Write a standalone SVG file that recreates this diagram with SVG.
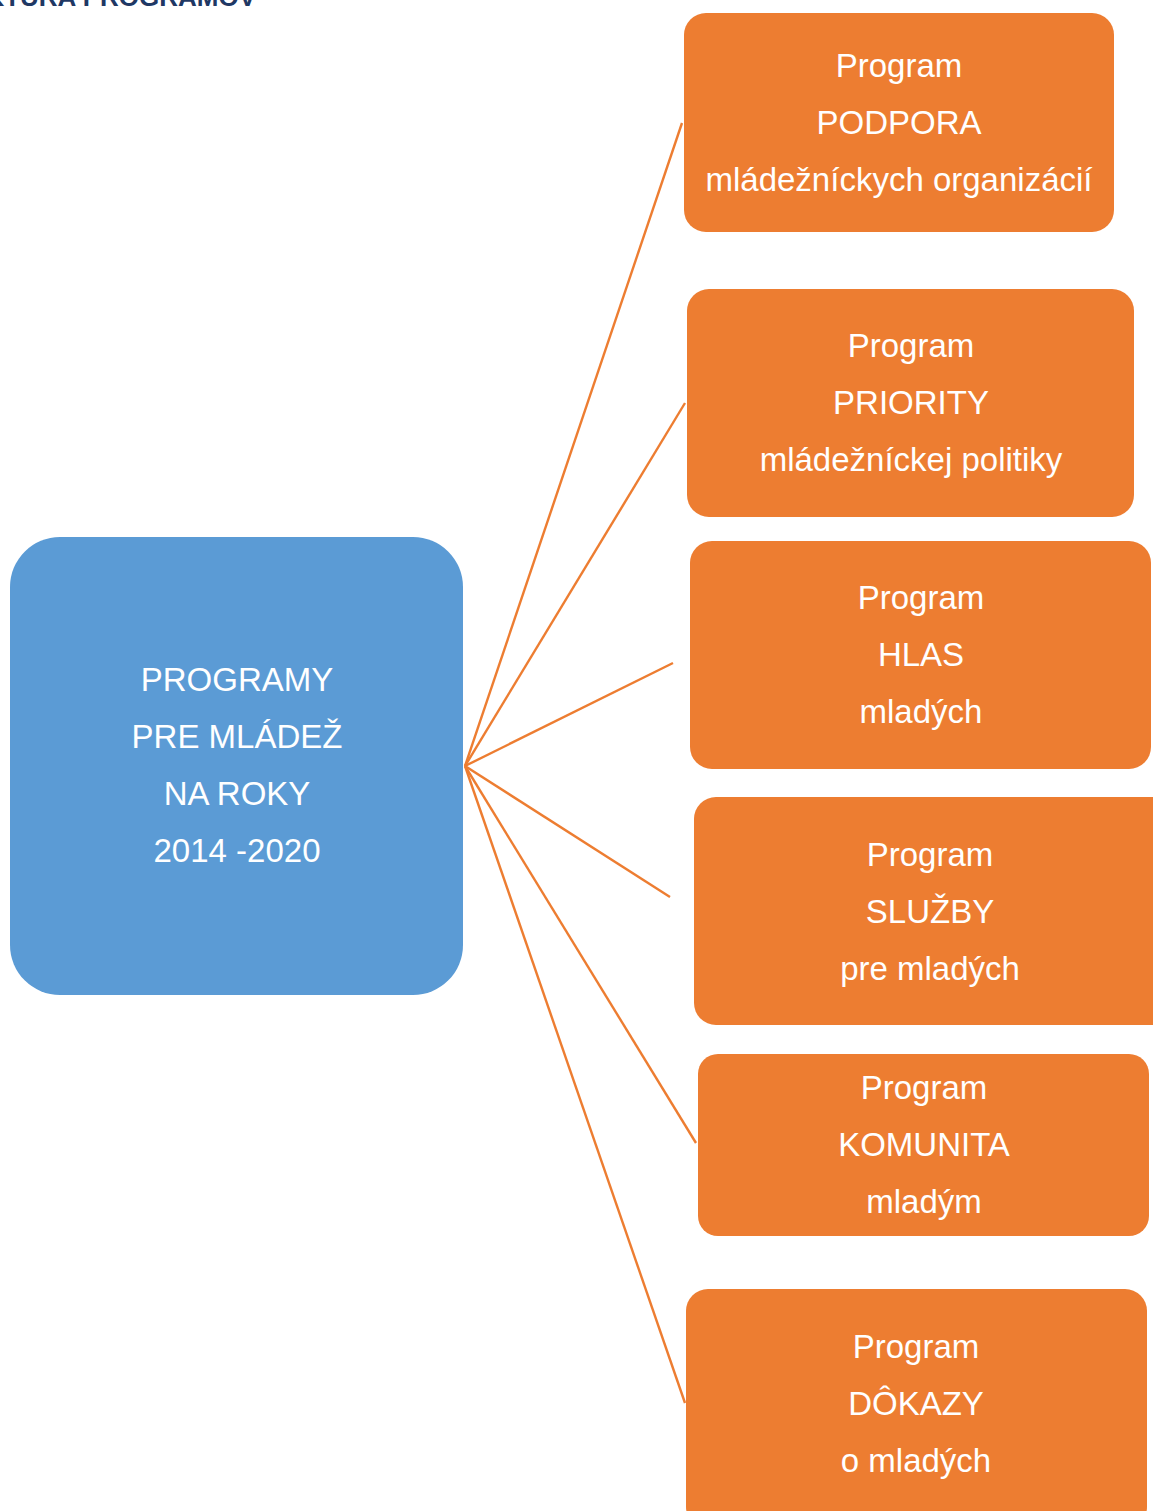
<svg xmlns="http://www.w3.org/2000/svg" width="1153" height="1511" viewBox="0 0 1153 1511">
<style>
.bg{fill:#ffffff}
.orange{fill:#ED7D31}
.blue{fill:#5B9BD5}
.t{font-family:"Liberation Sans",Arial,sans-serif;font-size:33px;fill:#ffffff;text-anchor:middle}
.h{font-family:"Liberation Sans",Arial,sans-serif;font-size:26px;font-weight:bold;fill:#1F3864;text-anchor:end}
.c{stroke:#ED7D31;stroke-width:2.4;fill:none}
</style>
<rect class="bg" x="0" y="0" width="1153" height="1511"/>
<text class="h" x="256" y="6">ŠTRUKTÚRA PROGRAMOV</text>
<g id="connectors">
<line class="c" x1="465" y1="766" x2="682" y2="123"/>
<line class="c" x1="465" y1="766" x2="685" y2="403"/>
<line class="c" x1="465" y1="766" x2="673" y2="663"/>
<line class="c" x1="465" y1="766" x2="670" y2="897"/>
<line class="c" x1="465" y1="766" x2="696" y2="1143"/>
<line class="c" x1="465" y1="766" x2="685" y2="1403"/>
</g>
<g id="center">
<rect class="blue" x="10" y="537" width="453" height="458" rx="50"/>
<text class="t" x="237" y="691">PROGRAMY</text>
<text class="t" x="237" y="748">PRE MLÁDEŽ</text>
<text class="t" x="237" y="805">NA ROKY</text>
<text class="t" x="237" y="862">2014 -2020</text>
</g>
<g id="podpora">
<rect class="orange" x="684" y="13" width="430" height="219" rx="22"/>
<text class="t" x="899" y="77">Program</text>
<text class="t" x="899" y="134">PODPORA</text>
<text class="t" x="899" y="191">mládežníckych organizácií</text>
</g>
<g id="priority">
<rect class="orange" x="687" y="289" width="447" height="228" rx="22"/>
<text class="t" x="911" y="357">Program</text>
<text class="t" x="911" y="414">PRIORITY</text>
<text class="t" x="911" y="471">mládežníckej politiky</text>
</g>
<g id="hlas">
<rect class="orange" x="690" y="541" width="461" height="228" rx="22"/>
<text class="t" x="921" y="609">Program</text>
<text class="t" x="921" y="666">HLAS</text>
<text class="t" x="921" y="723">mladých</text>
</g>
<g id="sluzby">
<rect class="orange" x="694" y="797" width="480" height="228" rx="22"/>
<text class="t" x="930" y="866">Program</text>
<text class="t" x="930" y="923">SLUŽBY</text>
<text class="t" x="930" y="980">pre mladých</text>
</g>
<g id="komunita">
<rect class="orange" x="698" y="1054" width="451" height="182" rx="20"/>
<text class="t" x="924" y="1099">Program</text>
<text class="t" x="924" y="1156">KOMUNITA</text>
<text class="t" x="924" y="1213">mladým</text>
</g>
<g id="dokazy">
<rect class="orange" x="686" y="1289" width="461" height="240" rx="22"/>
<text class="t" x="916" y="1358">Program</text>
<text class="t" x="916" y="1415">DÔKAZY</text>
<text class="t" x="916" y="1472">o mladých</text>
</g>
</svg>
